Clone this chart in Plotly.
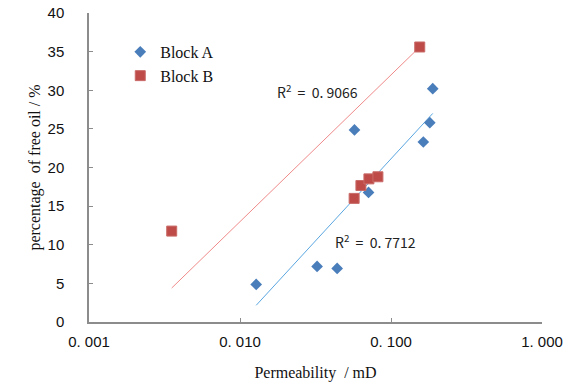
import plotly.graph_objects as go

# Block A (diamonds)
perm_a = [0.0128, 0.0324, 0.044, 0.0573, 0.071, 0.1637, 0.1807, 0.189]
oil_a = [4.87, 7.2, 6.94, 24.87, 16.77, 23.3, 25.8, 30.2]

# Block B (squares)
perm_b = [0.00353, 0.057, 0.0632, 0.0714, 0.0819, 0.155]
oil_b = [11.77, 16.0, 17.67, 18.53, 18.8, 35.6]

# trendline end points
trend_a_x = [0.0128, 0.189]
trend_a_y = [2.16, 27.0]
trend_b_x = [0.00353, 0.155]
trend_b_y = [4.4, 35.6]

r2_a = "0. 7712"
r2_b = "0. 9066"

x_ticks = [0.001, 0.01, 0.1, 1]
x_labels = ["0. 001", "0. 010", "0. 100", "1. 000"]

axis_col = "#8c8c8c"
serif = "Liberation Serif, Times New Roman, serif"
sans = "Liberation Sans, Arial, sans-serif"

fig = go.Figure()

fig.add_trace(go.Scatter(x=trend_b_x, y=trend_b_y, mode="lines",
                         line=dict(color="#f08a8a", width=1),
                         showlegend=False, hoverinfo="skip"))
fig.add_trace(go.Scatter(x=trend_a_x, y=trend_a_y, mode="lines",
                         line=dict(color="#5aa6e0", width=1),
                         showlegend=False, hoverinfo="skip"))

fig.add_trace(go.Scatter(x=perm_a, y=oil_a, mode="markers", name="Block A",
                         marker=dict(symbol="diamond", size=9, color="#4a7ebb",
                                     line=dict(width=0))))
fig.add_trace(go.Scatter(x=perm_b, y=oil_b, mode="markers", name="Block B",
                         marker=dict(symbol="square", size=10, color="#be4b48",
                                     line=dict(width=1, color="#c96b68"))))

fig.add_annotation(x=0.505, y=29.9, xref="paper", yref="y",
                   text="R<sup>2</sup>  =  " + r2_b, showarrow=False,
                   font=dict(family="Noto Sans CJK SC, DejaVu Sans", size=14, color="#222"))
fig.add_annotation(x=0.632, y=10.4, xref="paper", yref="y",
                   text="R<sup>2</sup>  =  " + r2_a, showarrow=False,
                   font=dict(family="Noto Sans CJK SC, DejaVu Sans", size=14, color="#222"))

fig.update_xaxes(type="log", range=[-3, 0], tickvals=x_ticks, ticktext=x_labels,
                 showline=True, linecolor=axis_col, linewidth=1.5,
                 ticks="inside", ticklen=4, tickcolor=axis_col,
                 showgrid=False, zeroline=False, automargin=False,
                 ticklabelstandoff=5,
                 tickfont=dict(family=sans, size=15, color="#111"),
                 title=dict(text="Permeability  / mD", standoff=18,
                            font=dict(family=serif, size=16, color="#111")))
fig.update_yaxes(range=[0, 40], dtick=5,
                 showline=True, linecolor=axis_col, linewidth=1.5,
                 ticks="inside", ticklen=4, tickcolor=axis_col,
                 showgrid=False, zeroline=False, ticklabelstandoff=20,
                 automargin=False,
                 tickfont=dict(family=sans, size=15, color="#111"),
                 title=dict(text="percentage  of free oil / %", standoff=3,
                            font=dict(family=serif, size=16, color="#111")))

fig.update_layout(width=566, height=382,
                  margin=dict(l=89, r=24, t=13, b=60),
                  plot_bgcolor="white", paper_bgcolor="white",
                  legend=dict(x=0.069, y=0.929, xanchor="left", yanchor="top",
                              bgcolor="rgba(0,0,0,0)", itemwidth=30,
                              font=dict(family=serif, size=16, color="#111"),
                              tracegroupgap=0))

# the page has a default 8px body margin; drop it so the chart sits at 0,0
fig.write_html("out.html", config={"displayModeBar": False},
               post_script="document.body.style.margin='0';document.body.style.overflow='hidden';")
